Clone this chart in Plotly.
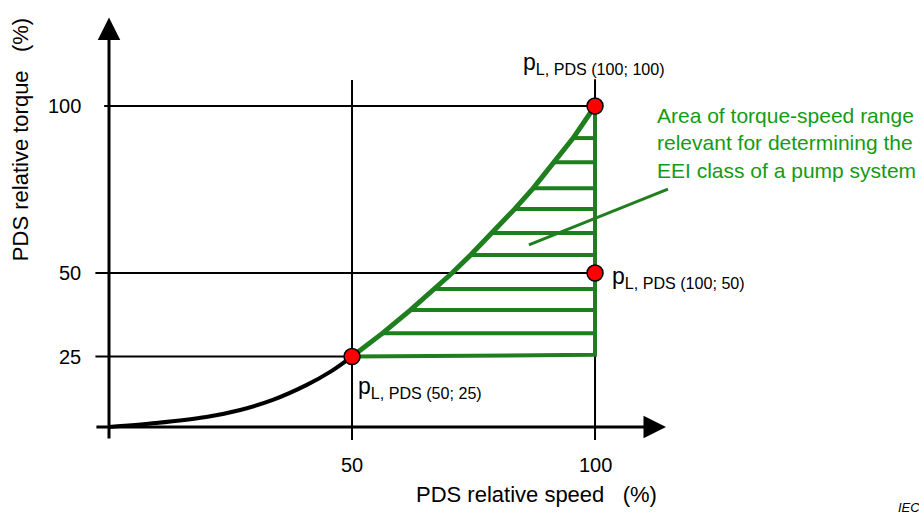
import plotly.graph_objects as go

# ---- data ----
curve_x = [0, 9.7, 20.0, 27.0, 33.7, 40.7, 45.5, 50]
curve_y = [3.9, 5.1, 6.9, 9.0, 12.0, 16.5, 20.4, 25]

hyp_x = [50, 56.3, 62.0, 66.9, 70.6, 74.4, 78.9, 83.5, 87.3, 91.7, 95.5, 100]
hyp_y = [25, 32.0, 38.9, 45.2, 50.0, 55.4, 62.0, 69.2, 75.4, 83.2, 90.4, 100]

hatch_left_x = [56.3, 62.0, 66.9, 74.4, 78.9, 83.5, 87.3, 91.7, 95.5]
hatch_y = [32.0, 38.9, 45.2, 55.4, 62.0, 69.2, 75.4, 83.2, 90.4]

pts_x = [50, 100, 100]
pts_y = [25, 50, 100]
pts_lab = ["p<sub>L, PDS (50; 25)</sub>", "p<sub>L, PDS (100; 50)</sub>", "p<sub>L, PDS (100; 100)</sub>"]

ytick_vals = [25, 50, 100]
xtick_vals = [50, 100]

BLACK = "#000000"
GREEN = "#1f7f1f"
TGREEN = "#149b14"
FONT = "Liberation Sans, Arial, sans-serif"

fig = go.Figure()

# hypotenuse / area boundary
fig.add_trace(go.Scatter(x=hyp_x, y=hyp_y, mode="lines", line=dict(color=GREEN, width=5),
                         hoverinfo="skip", showlegend=False))
# right and bottom edge
fig.add_trace(go.Scatter(x=[pts_x[0], 100, 100], y=[pts_y[0], 25.5, 100], mode="lines",
                         line=dict(color=GREEN, width=4), hoverinfo="skip", showlegend=False))
# hatch lines
hx, hy = [], []
for lx, yy in zip(hatch_left_x, hatch_y):
    hx += [lx, 100, None]
    hy += [yy, yy, None]
fig.add_trace(go.Scatter(x=hx, y=hy, mode="lines", line=dict(color=GREEN, width=4),
                         hoverinfo="skip", showlegend=False))
# leader line
fig.add_trace(go.Scatter(x=[86.4, 115.0], y=[58.4, 75.1], mode="lines", line=dict(color=GREEN, width=3),
                         hoverinfo="skip", showlegend=False))
# load curve
fig.add_trace(go.Scatter(x=curve_x, y=curve_y, mode="lines",
                         line=dict(color=BLACK, width=4, shape="spline", smoothing=0.8),
                         hoverinfo="skip", showlegend=False))
# points
fig.add_trace(go.Scatter(x=pts_x, y=pts_y, mode="markers",
                         marker=dict(size=16, color="#ff0000", line=dict(color=BLACK, width=1.5)),
                         hoverinfo="skip", showlegend=False))

shapes = []
def seg(x0, y0, x1, y1, w=2):
    shapes.append(dict(type="line", xref="x", yref="y", x0=x0, y0=y0, x1=x1, y1=y1,
                       line=dict(color=BLACK, width=w), layer="below"))

# grid lines
seg(-1.0, 100, 100, 100)
seg(-2.8, 50, 100, 50)
seg(-2.8, 25, 50, 25)
seg(50, 0, 50, 107.8)
seg(100, 0, 100, 108.0)

annotations = []
# axes with arrows
annotations.append(dict(x=0, y=126.5, ax=0, ay=0, xref="x", yref="y", axref="x", ayref="y", text="",
                        showarrow=True, arrowhead=2, arrowsize=1.5, arrowwidth=3, arrowcolor=BLACK, standoff=0))
annotations.append(dict(x=114.6, y=3.9, ax=-2.9, ay=3.9, xref="x", yref="y", axref="x", ayref="y", text="",
                        showarrow=True, arrowhead=2, arrowsize=1.5, arrowwidth=3, arrowcolor=BLACK, standoff=0))

# tick labels
for v in ytick_vals:
    annotations.append(dict(x=-5.4, y=v, xref="x", yref="y", text=str(v), showarrow=False,
                            xanchor="right", yanchor="middle", font=dict(family=FONT, size=20, color=BLACK)))
for v in xtick_vals:
    annotations.append(dict(x=v, y=-7.5, xref="x", yref="y", text=str(v), showarrow=False,
                            xanchor="center", yanchor="middle", font=dict(family=FONT, size=20, color=BLACK)))

# axis titles
annotations.append(dict(x=87.9, y=-16.2, xref="x", yref="y",
                        text="PDS relative speed\u00a0\u00a0 (%)", showarrow=False,
                        xanchor="center", yanchor="middle", font=dict(family=FONT, size=22, color=BLACK)))
annotations.append(dict(x=-18.3, y=89.8, xref="x", yref="y",
                        text="PDS relative torque\u00a0\u00a0 (%)", showarrow=False, textangle=-90,
                        xanchor="center", yanchor="middle", font=dict(family=FONT, size=22, color=BLACK)))

# point labels
lab_pos = [(50.8, 15.6), (103.1, 48.8), (84.8, 112.6)]
for (lx, ly), t in zip(lab_pos, pts_lab):
    annotations.append(dict(x=lx, y=ly, xref="x", yref="y", text=t, showarrow=False,
                            xanchor="left", yanchor="middle", font=dict(family=FONT, size=23, color=BLACK)))

# area description
annotations.append(dict(x=112.3, y=88.9, xref="x", yref="y",
                        text="Area of torque-speed range<br>relevant for determining the<br>EEI class of a pump system",
                        showarrow=False, xanchor="left", yanchor="middle", align="left",
                        font=dict(family=FONT, size=21, color=TGREEN)))

# source mark (cut at the right edge as in the reference)
annotations.append(dict(x=(896 - 109) / 4.86, y=100 - (507 - 106) / 3.34, xref="x", yref="y",
                        text="<i>IEC</i>", showarrow=False, xanchor="left", yanchor="middle",
                        font=dict(family=FONT, size=13, color=BLACK)))

fig.update_layout(
    width=919, height=513, autosize=False,
    margin=dict(l=0, r=0, t=0, b=0),
    paper_bgcolor="white", plot_bgcolor="white",
    xaxis=dict(visible=False, range=[-22.43, 166.66], fixedrange=True),
    yaxis=dict(visible=False, range=[-21.85, 131.74], fixedrange=True),
    shapes=shapes, annotations=annotations, showlegend=False,
)

fig.write_html("out.html")
